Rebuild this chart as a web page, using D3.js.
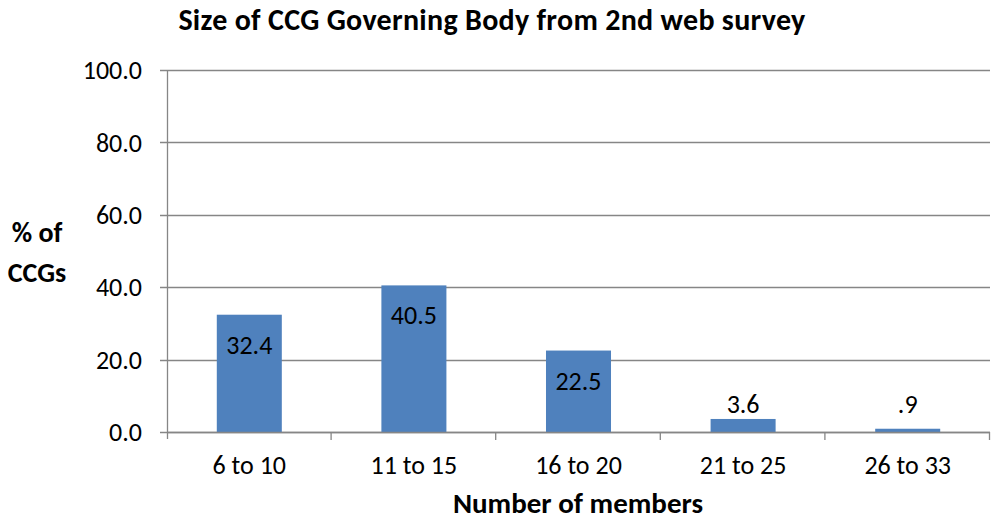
<!DOCTYPE html>
<html>
<head>
<meta charset="utf-8">
<script src="https://cdn.jsdelivr.net/npm/d3@7"></script>
<style>
  body { margin: 0; background: #fff; }
  text { font-family: Carlito, "Open Sans", "Noto Sans", sans-serif; fill: #000; }
</style>
</head>
<body>
<script>
// chart data
var categories = ["6 to 10", "11 to 15", "16 to 20", "21 to 25", "26 to 33"];
var values = [32.4, 40.5, 22.5, 3.6, 0.9];
var valueLabels = ["32.4", "40.5", "22.5", "3.6", ".9"];
var yTicks = [0, 20, 40, 60, 80, 100];

var width = 993, height = 522;
var margin = {top: 70, right: 3, bottom: 90, left: 167};
var plotW = width - margin.left - margin.right;
var plotH = height - margin.top - margin.bottom;
var axisColor = "#868686";
var labelSize = "26px";

var svg = d3.select("body").append("svg")
    .attr("width", width)
    .attr("height", height);

var canvas = svg.append("g")
    .attr("transform", "translate(" + margin.left + "," + margin.top + ")");

var xScale = d3.scaleBand()
    .domain(categories)
    .range([0, plotW])
    .paddingInner(0.605)
    .paddingOuter(0.3025);

var yScale = d3.scaleLinear()
    .domain([0, 100])
    .range([plotH, 0]);

// gridlines
canvas.append("g")
  .selectAll("line")
  .data(yTicks)
  .enter().append("line")
    .attr("x1", -7)
    .attr("x2", plotW)
    .attr("y1", function(d) { return Math.round(yScale(d)) + 0.5; })
    .attr("y2", function(d) { return Math.round(yScale(d)) + 0.5; })
    .attr("stroke", axisColor)
    .attr("stroke-width", 1.3);

// y tick labels
canvas.append("g")
  .selectAll("text")
  .data(yTicks)
  .enter().append("text")
    .attr("x", -25)
    .attr("y", function(d) { return yScale(d); })
    .attr("dy", "0.35em")
    .attr("text-anchor", "end")
    .style("font-size", labelSize)
    .text(function(d) { return d3.format(".1f")(d); });

// bars
canvas.selectAll(".bar")
    .data(values)
    .enter().append("rect")
    .attr("class", "bar")
    .attr("fill", "#4F81BD")
    .attr("x", function(d, i) { return xScale(categories[i]); })
    .attr("y", function(d) { return yScale(d); })
    .attr("width", xScale.bandwidth())
    .attr("height", function(d) { return plotH - yScale(d); });

// y axis line
canvas.append("line")
    .attr("x1", 0.5).attr("x2", 0.5)
    .attr("y1", 0).attr("y2", plotH + 7)
    .attr("stroke", axisColor)
    .attr("stroke-width", 1.3);

// x axis line + ticks at category boundaries
canvas.append("line")
    .attr("x1", 0).attr("x2", plotW)
    .attr("y1", Math.round(plotH) + 0.5).attr("y2", Math.round(plotH) + 0.5)
    .attr("stroke", axisColor)
    .attr("stroke-width", 1.3);

var step = xScale.step();
canvas.append("g")
  .selectAll("line")
  .data(d3.range(1, categories.length + 1))
  .enter().append("line")
    .attr("x1", function(i) { return i * step - 0.5; })
    .attr("x2", function(i) { return i * step - 0.5; })
    .attr("y1", plotH)
    .attr("y2", plotH + 8)
    .attr("stroke", axisColor)
    .attr("stroke-width", 1.3);

// x tick labels
canvas.append("g")
  .selectAll("text")
  .data(categories)
  .enter().append("text")
    .attr("x", function(d) { return xScale(d) + xScale.bandwidth() / 2; })
    .attr("y", plotH + 42)
    .attr("text-anchor", "middle")
    .style("font-size", labelSize)
    .text(function(d) { return d; });

// value labels: inside the top when the bar is tall enough, otherwise above
canvas.append("g")
  .selectAll("text")
  .data(values)
  .enter().append("text")
    .attr("x", function(d, i) { return xScale(categories[i]) + xScale.bandwidth() / 2; })
    .attr("y", function(d) {
      var top = yScale(d);
      if (plotH - top > 40) return top + 39;
      return Math.min(top - 6, plotH - 19);
    })
    .attr("text-anchor", "middle")
    .style("font-size", labelSize)
    .text(function(d, i) { return valueLabels[i]; });

// title
svg.append("text")
    .attr("x", 492)
    .attr("y", 30)
    .attr("text-anchor", "middle")
    .style("font-size", "30px")
    .style("font-weight", "bold")
    .style("letter-spacing", "0.3px")
    .text("Size of CCG Governing Body from 2nd web survey");

// axis titles
svg.append("text")
    .attr("x", 578)
    .attr("y", 513)
    .attr("text-anchor", "middle")
    .style("font-size", "29px")
    .style("font-weight", "bold")
    .text("Number of members");

var yTitle = svg.append("text")
    .attr("text-anchor", "middle")
    .style("font-size", "28px")
    .style("font-weight", "bold");
yTitle.append("tspan").attr("x", 37).attr("y", 242).text("% of");
yTitle.append("tspan").attr("x", 37).attr("y", 282).text("CCGs");
</script>
</body>
</html>
